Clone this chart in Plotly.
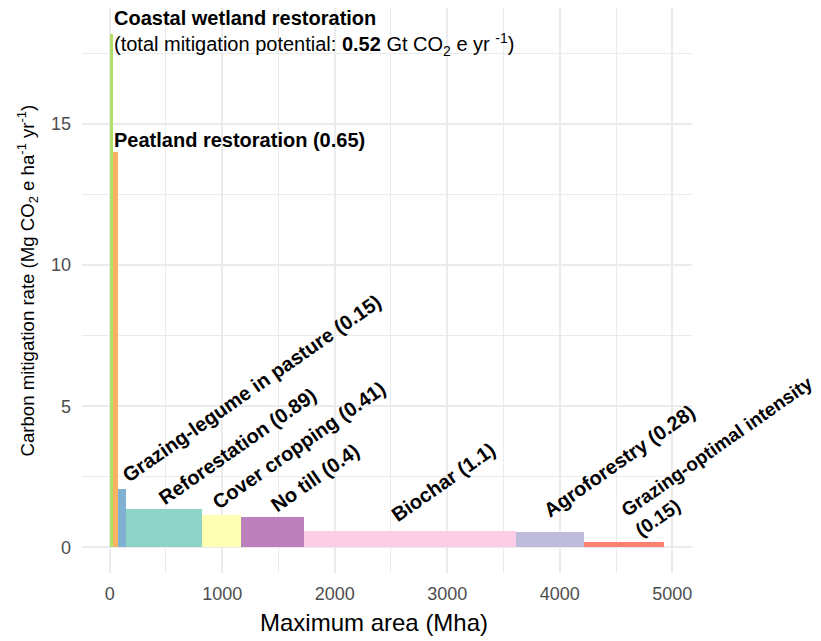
import plotly.graph_objects as go

# ---- data ----
practices = ["Coastal wetland restoration", "Peatland restoration", "Grazing-legume in pasture",
             "Reforestation", "Cover cropping", "No till", "Biochar", "Agroforestry",
             "Grazing-optimal intensity"]
max_area_mha = [29, 46, 73, 672, 350, 559, 1880, 608, 712]
mitigation_rate = [18.2, 14.0, 2.06, 1.35, 1.15, 1.07, 0.58, 0.53, 0.19]
total_potential = ["0.52", "0.65", "0.15", "0.89", "0.41", "0.4", "1.1", "0.28", "0.15"]
colors = ["#b3de69", "#fdb462", "#80b1d3", "#8dd3c7", "#ffffb3", "#bc80bd", "#fccde5",
          "#bebada", "#fb8072"]
x_ticks = [0, 1000, 2000, 3000, 4000, 5000]
y_ticks = [0, 5, 10, 15]
x_title = "Maximum area (Mha)"
y_title = "Carbon mitigation rate (Mg CO<sub>2</sub> e ha<sup>-1</sup> yr<sup>-1</sup>)"

# ---- derived positions ----
lefts, centers = [], []
acc = 0
for w in max_area_mha:
    lefts.append(acc)
    centers.append(acc + w / 2)
    acc += w
x_max = acc
y_max = max(mitigation_rate)
x_range = [-0.05 * x_max, x_max * 1.05]
y_range = [-0.05 * y_max, y_max * 1.05]

FONT = "Liberation Sans, Arial, Helvetica, sans-serif"
GRID = "#ebebeb"

fig = go.Figure()
fig.add_trace(go.Bar(
    x=centers, y=mitigation_rate, width=max_area_mha,
    marker=dict(color=colors, line=dict(width=0)),
    showlegend=False, hoverinfo="skip",
))

annotations = []
# top labels
annotations.append(dict(x=centers[0], y=mitigation_rate[0], xref="x", yref="y",
                        text="<b>" + practices[0] + "</b>", showarrow=False,
                        xanchor="left", yanchor="middle", xshift=1, yshift=16,
                        font=dict(family=FONT, size=20, color="black")))
annotations.append(dict(x=centers[0], y=mitigation_rate[0], xref="x", yref="y",
                        text="(total mitigation potential: <b>" + total_potential[0] +
                             "</b> Gt CO<sub>2</sub> e yr <sup>-1</sup>)",
                        showarrow=False, xanchor="left", yanchor="middle", xshift=1, yshift=-11,
                        font=dict(family=FONT, size=20, color="black")))
annotations.append(dict(x=centers[0], y=mitigation_rate[1], xref="x", yref="y",
                        text="<b>" + practices[1] + " (" + total_potential[1] + ")</b>",
                        showarrow=False, xanchor="left", yanchor="middle",
                        xshift=1, yshift=12,
                        font=dict(family=FONT, size=20, color="black")))

# rotated labels (pixel nudges of label boxes)
nudges = {2: (-6, 0), 3: (-12, -2), 4: (-16, -1), 5: (-9, -2), 6: (-25, 2), 7: (-13, 8), 8: (-10, -2)}
for i in range(2, len(practices)):
    if i == 8:
        txt = "<b>" + practices[i] + "<br>(" + total_potential[i] + ")</b>"
        size = 19
    else:
        txt = "<b>" + practices[i] + " (" + total_potential[i] + ")</b>"
        size = 20
    dx, dy = nudges[i]
    annotations.append(dict(x=centers[i], y=mitigation_rate[i], xref="x", yref="y",
                            text=txt, showarrow=False, textangle=-35, align="left",
                            xanchor="left", yanchor="bottom", xshift=dx, yshift=dy,
                            font=dict(family=FONT, size=size, color="black")))

# axis titles
annotations.append(dict(x=0.5, y=0, xref="paper", yref="paper", text=x_title, showarrow=False,
                        xanchor="center", yanchor="middle", xshift=-13, yshift=-49,
                        font=dict(family=FONT, size=24, color="black")))
annotations.append(dict(x=0, y=0.5, xref="paper", yref="paper", text=y_title, showarrow=False,
                        textangle=-90, xanchor="center", yanchor="middle", xshift=-54, yshift=10,
                        font=dict(family=FONT, size=18.6, color="black")))

fig.update_layout(
    width=821, height=641,
    margin=dict(l=74, r=137, t=0, b=76, autoexpand=False),
    plot_bgcolor="white", paper_bgcolor="white",
    font=dict(family=FONT, color="black"),
    annotations=annotations,
    bargap=0,
)
fig.update_xaxes(
    range=x_range, tickvals=x_ticks, ticktext=[str(v) for v in x_ticks],
    showgrid=True, gridcolor=GRID, gridwidth=1.6,
    minor=dict(dtick=500, tick0=0, showgrid=True, gridcolor=GRID, gridwidth=0.9),
    zeroline=False, showline=False, ticks="",
    tickfont=dict(family=FONT, size=18, color="#4d4d4d"),
    ticklabelstandoff=8, automargin=False,
)
fig.update_yaxes(
    range=y_range, tickvals=y_ticks, ticktext=[str(v) for v in y_ticks],
    showgrid=True, gridcolor=GRID, gridwidth=1.6,
    minor=dict(dtick=2.5, tick0=0, showgrid=True, gridcolor=GRID, gridwidth=0.9),
    zeroline=False, showline=False, ticks="",
    tickfont=dict(family=FONT, size=18, color="#4d4d4d"),
    ticklabelstandoff=10, automargin=False,
)

fig.write_html("out.html")
